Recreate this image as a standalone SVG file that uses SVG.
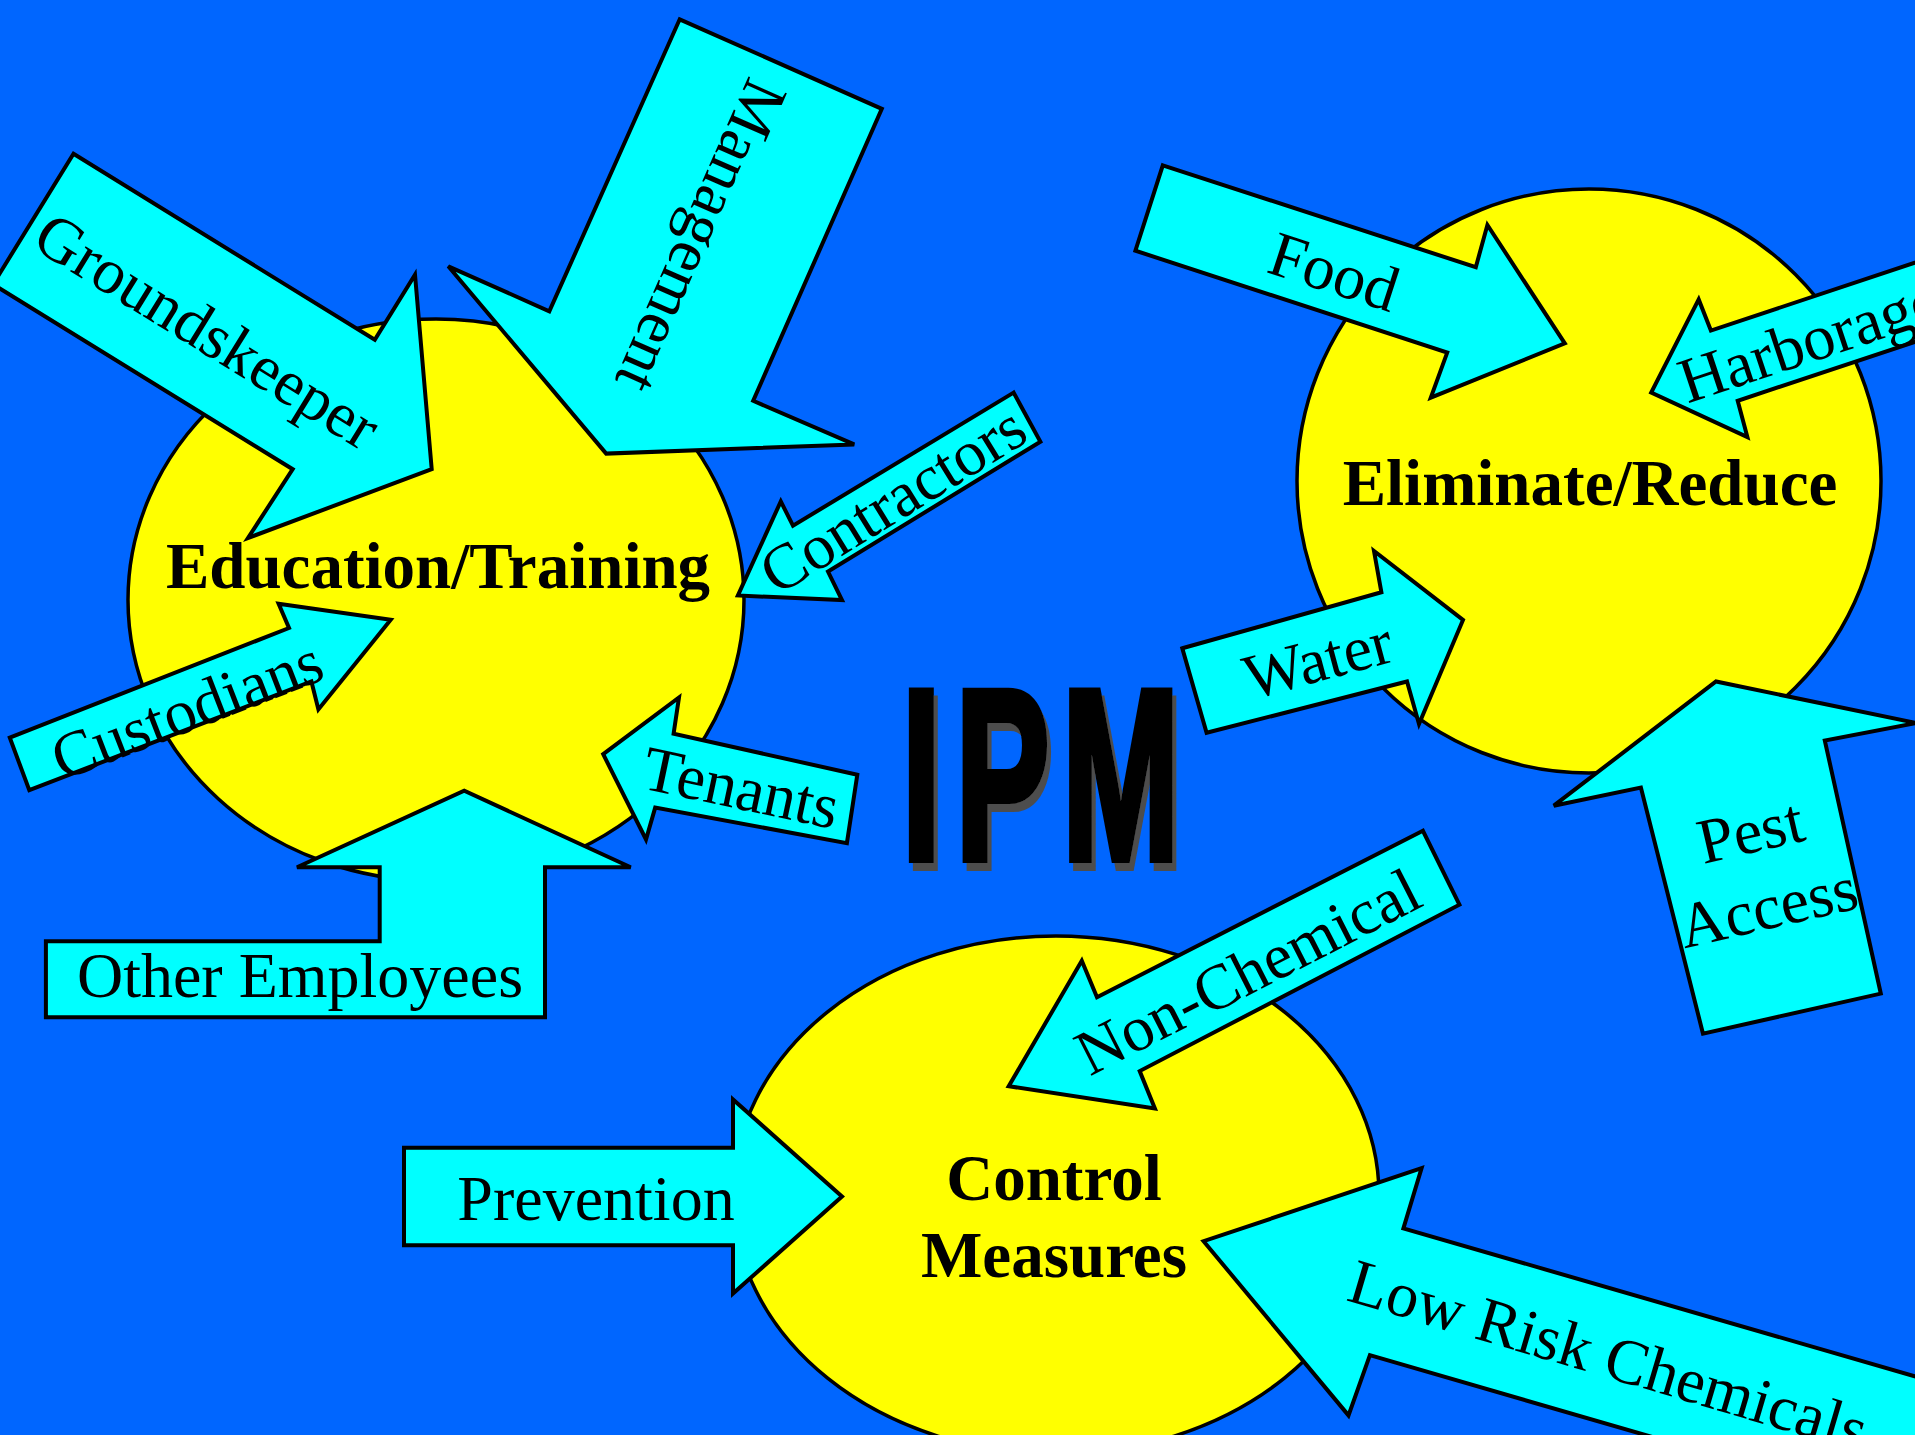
<svg xmlns="http://www.w3.org/2000/svg" width="1915" height="1435" viewBox="0 0 1915 1435">
  <style>
    .hub { fill: #ffff00; stroke: #000; stroke-width: 3.5; }
    .blk { fill: #00ffff; stroke: #000; stroke-width: 4; stroke-linejoin: miter; }
    .lbl { font-family: "Liberation Serif", "Times New Roman", serif; font-size: 64px; fill: #000; text-anchor: middle; }
    .hubtxt { font-family: "Liberation Serif", "Times New Roman", serif; font-size: 65px; font-weight: bold; fill: #000; text-anchor: middle; }
    .ipm { font-family: "Liberation Sans", Arial, sans-serif; font-size: 243px; font-weight: bold; fill: #000; stroke: #000; stroke-width: 8; }
  </style>
  <defs>
    <!-- grey drop shadow offset down-right -->
    <filter id="dropShadow" x="-10%" y="-10%" width="130%" height="130%">
      <feOffset in="SourceAlpha" dx="4" dy="8" result="off"/>
      <feFlood flood-color="#4d4d4d"/>
      <feComposite in2="off" operator="in" result="shadow"/>
      <feMerge>
        <feMergeNode in="shadow"/>
        <feMergeNode in="SourceGraphic"/>
      </feMerge>
    </filter>
  </defs>

  <rect x="0" y="0" width="1915" height="1435" fill="#0066ff"/>

  <!-- central hubs -->
  <g id="education-training">
    <ellipse class="hub" cx="436" cy="600" rx="308" ry="281"/>
  </g>
  <g id="eliminate-reduce">
    <ellipse class="hub" cx="1589" cy="481" rx="292" ry="292"/>
  </g>
  <g id="control-measures">
    <ellipse class="hub" cx="1056" cy="1195" rx="323" ry="259"/>
  </g>

  <!-- block arrows pointing into the hubs -->
  <g id="arrows">
    <g id="groundskeeper">
      <polygon class="blk" points="73.5,153.8 374.8,339.8 415,274.6 431.7,469.2 248,538 292.7,469.2 -7,284.3"/>
      <text class="lbl" transform="translate(207,331) rotate(31.7)" y="21">Groundskeeper</text>
    </g>
    <g id="management">
      <polygon class="blk" points="679.7,19.3 881.8,108.8 753.2,400.8 854.2,444.4 606.2,453.6 448.3,266.3 549.3,311.3"/>
      <text class="lbl" transform="translate(701,236) rotate(113.8)" y="21">Management</text>
    </g>
    <g id="contractors">
      <polygon class="blk" points="1013.6,392.6 793,525.7 780.8,501.4 737.9,595.5 842,600 828,571.6 1040.4,441.7"/>
      <text class="lbl" transform="translate(893,500) rotate(-31.7)" y="21">Contractors</text>
    </g>
    <g id="custodians">
      <polygon class="blk" points="9.8,737.7 289,628 278.6,603.8 390.7,619.8 318.4,709.4 311.4,681.5 29.3,790.2"/>
      <text class="lbl" transform="translate(187,710) rotate(-21.2)" y="21">Custodians</text>
    </g>
    <g id="tenants">
      <polygon class="blk" points="857.3,774.7 673.6,733.7 679,697.4 603.2,754.2 646,839.5 655.2,807.6 846.9,843.1"/>
      <text class="lbl" transform="translate(741,788) rotate(12)" y="21">Tenants</text>
    </g>
    <g id="other-employees">
      <polygon class="blk" points="45.9,941.2 379.7,941.2 379.7,867.3 297,867.3 464.2,790.7 630.7,867.3 545,867.3 545,1017.3 45.9,1017.3"/>
      <text class="lbl" x="300" y="997">Other Employees</text>
    </g>
    <g id="food">
      <polygon class="blk" points="1162.8,165.3 1475.8,267.2 1487.4,225 1564.8,343.4 1430.8,397.6 1447.2,352.6 1135.4,250.7"/>
      <text class="lbl" transform="translate(1334,272) rotate(18)" y="21">Food</text>
    </g>
    <g id="harborage">
      <polygon class="blk" points="2000,234.3 1710.9,330.6 1698.7,299.4 1651.2,392.6 1747.4,437.1 1737.7,400.8 2000,313.5"/>
      <text class="lbl" transform="translate(1809,341) rotate(-18.4)" y="21">Harborage</text>
    </g>
    <g id="water">
      <polygon class="blk" points="1182.3,648.3 1381.4,592.3 1374,551 1463,620 1419,724 1407,681.5 1206.6,732.8"/>
      <text class="lbl" transform="translate(1318,660) rotate(-15)" y="21">Water</text>
    </g>
    <g id="pest-access">
      <polygon class="blk" points="1703,1033.7 1640.9,787.5 1553.8,805.7 1716,681.5 1916,723 1824.8,740.5 1880.8,993.6"/>
      <text class="lbl" transform="translate(1764,890) rotate(-13)"><tspan x="0" y="-39">Pest</tspan><tspan x="0" y="39">Access</tspan></text>
    </g>
    <g id="non-chemical">
      <polygon class="blk" points="1422.9,830.8 1097,997.2 1081.8,960.8 1008.7,1086.2 1154.9,1108.5 1139.7,1071.1 1459.4,904.7"/>
      <text class="lbl" transform="translate(1248,972) rotate(-27.1)" y="21">Non-Chemical</text>
    </g>
    <g id="low-risk-chemicals">
      <polygon class="blk" points="2000,1401 1403.4,1228.4 1421.6,1168.2 1203.6,1241.2 1348.5,1415.4 1369.9,1355.2 2000,1537.7"/>
      <text class="lbl" transform="translate(1345,1300) rotate(16.5)" style="text-anchor:start">Low Risk Chemicals</text>
    </g>
    <g id="prevention">
      <polygon class="blk" points="404,1147.7 733,1147.7 733,1099.4 842,1196.5 733,1293.6 733,1245.3 404,1245.3"/>
      <text class="lbl" x="596" y="1220">Prevention</text>
    </g>
  </g>

  <!-- hub captions -->
  <g id="hub-labels">
    <text class="hubtxt" x="438" y="588">Education/Training</text>
    <text class="hubtxt" x="1590" y="505">Eliminate/Reduce</text>
    <text class="hubtxt" x="1054" y="1200">Control</text>
    <text class="hubtxt" x="1054" y="1277">Measures</text>
  </g>

  <!-- condensed title with drop shadow -->
  <g id="title" filter="url(#dropShadow)">
    <g transform="scale(0.58,1)">
      <text class="ipm" y="859"><tspan x="1554.6">I</tspan><tspan x="1647.6">P</tspan><tspan x="1830.9">M</tspan></text>
    </g>
  </g>
</svg>
